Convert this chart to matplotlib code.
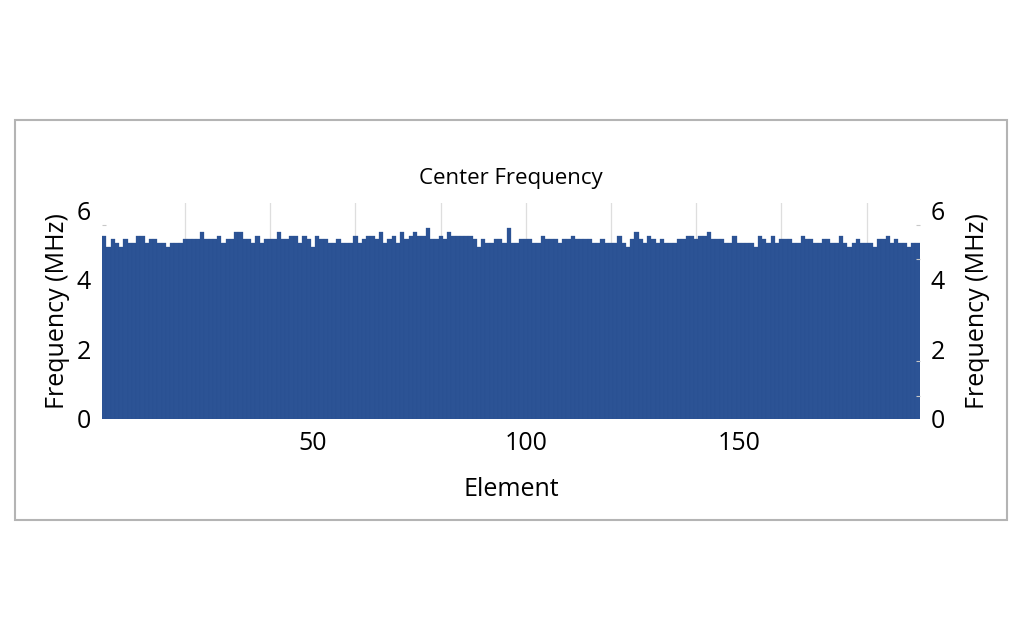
import numpy as np
import matplotlib.pyplot as plt
from matplotlib.patches import Rectangle

plt.rcParams['font.family'] = ['Open Sans', 'DejaVu Sans']

# Center frequency per element (MHz)
freq_1_32 = [5.28, 4.96, 5.17, 5.06, 4.96, 5.17, 5.06, 5.06, 5.28, 5.28, 5.06, 5.17,
             5.17, 5.06, 5.06, 4.96, 5.06, 5.06, 5.06, 5.17, 5.17, 5.17, 5.17, 5.38,
             5.17, 5.17, 5.17, 5.28, 5.06, 5.17, 5.17, 5.38]
freq_33_64 = [5.38, 5.17, 5.17, 5.06, 5.28, 5.06, 5.17, 5.17, 5.17, 5.38, 5.17, 5.17,
              5.28, 5.28, 5.06, 5.28, 5.17, 4.96, 5.28, 5.17, 5.17, 5.06, 5.06, 5.17,
              5.06, 5.06, 5.06, 5.28, 5.06, 5.17, 5.28, 5.28]
freq_65_96 = [5.17, 5.38, 5.06, 5.17, 5.28, 5.06, 5.38, 5.17, 5.28, 5.38, 5.28, 5.28,
              5.49, 5.17, 5.17, 5.28, 5.17, 5.38, 5.28, 5.28, 5.28, 5.28, 5.28, 5.17,
              4.96, 5.17, 5.06, 5.06, 5.17, 5.17, 5.06, 5.49]
freq_97_128 = [5.06, 5.06, 5.17, 5.17, 5.17, 5.06, 5.06, 5.28, 5.17, 5.17, 5.17, 5.06,
               5.17, 5.17, 5.28, 5.17, 5.17, 5.17, 5.17, 5.06, 5.06, 5.17, 5.06, 5.06,
               5.06, 5.28, 5.06, 4.96, 5.17, 5.38, 5.17, 5.06]
freq_129_160 = [5.28, 5.17, 5.06, 5.17, 5.06, 5.06, 5.06, 5.17, 5.17, 5.28, 5.28, 5.17,
                5.28, 5.28, 5.38, 5.17, 5.17, 5.17, 5.06, 5.06, 5.28, 5.06, 5.06, 5.06,
                5.06, 4.96, 5.28, 5.17, 5.06, 5.28, 5.06, 5.17]
freq_161_192 = [5.17, 5.17, 5.06, 5.06, 5.28, 5.17, 5.17, 5.06, 5.06, 5.17, 5.17, 5.06,
                5.06, 5.28, 5.06, 4.96, 5.06, 5.17, 5.06, 5.06, 5.06, 4.96, 5.17, 5.17,
                5.28, 5.06, 5.17, 5.06, 5.06, 4.96, 5.06, 5.06]

freq = np.array(freq_1_32 + freq_33_64 + freq_65_96 + freq_97_128 + freq_129_160 + freq_161_192)
elements = np.arange(1, len(freq) + 1)

x_ticks = [50, 100, 150]
y_ticks = [0, 2, 4, 6]
y_minor = [0.65, 1.65, 4.6, 5.6, 6.0]
grid_x = np.arange(20, 200, 20)

bar_color = '#2c5395'
label_size = 18

fig = plt.figure(figsize=(10.24, 6.4), dpi=100)
fig.patches.append(Rectangle((15 / 1024, 1 - 520 / 640), 992 / 1024, 400 / 640,
                             transform=fig.transFigure, fill=False,
                             edgecolor='#b4b4b4', linewidth=1.5))

ax = fig.add_axes([0.0997, 0.3458, 0.7985, 0.337])
for gx in grid_x:
    ax.axvline(gx, color='#dedede', linewidth=0.9, zorder=0)
ax.bar(elements, freq, width=1.0, color=bar_color, edgecolor='#2a4f8f',
       linewidth=0.2, zorder=2)

ax.set_xlim(0.5, len(freq) + 0.5)
ax.set_ylim(0, 6.22)
ax.set_xticks(x_ticks)
ax.set_yticks(y_ticks)
ax.set_yticks(y_minor, minor=True)
for s in ax.spines.values():
    s.set_visible(False)
ax.tick_params(axis='x', length=0, labelsize=label_size, pad=9)
ax.tick_params(axis='y', which='major', length=0, labelsize=label_size, pad=8)
ax.tick_params(axis='y', which='minor', direction='in', length=3, width=0.8,
               color='#c8c8c8')

ax.set_title('Center Frequency', fontsize=16, pad=14)
ax.set_xlabel('Element', fontsize=label_size, labelpad=15)
ax.set_ylabel('Frequency (MHz)', fontsize=label_size, labelpad=5)

ax2 = ax.twinx()
ax2.set_ylim(ax.get_ylim())
ax2.set_yticks(y_ticks)
ax2.set_yticks(y_minor, minor=True)
for s in ax2.spines.values():
    s.set_visible(False)
ax2.tick_params(axis='y', which='major', length=0, labelsize=label_size, pad=8)
ax2.tick_params(axis='y', which='minor', direction='in', length=3, width=0.8,
                color='#c8c8c8')
ax2.set_ylabel('Frequency (MHz)', fontsize=label_size, labelpad=14, rotation=90)

fig.savefig('out.png', dpi=100)
